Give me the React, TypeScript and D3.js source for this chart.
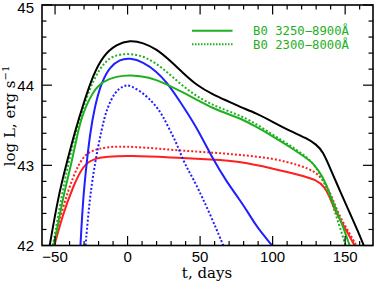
import React from "react";
import * as d3 from "d3";

// ---- data (t in days, log L in erg/s) ----
const blackT = [-53.7, -47.8, -42, -36, -30.6, -23.7, -16.8, -7.6, 1.6, 10.7, 20, 29.1, 38.3, 47.5, 59, 70.5, 77.3, 88.8, 100.3, 111.8, 123.3, 130.2, 134.7, 139.3, 146.2, 153.1, 159, 162.8];
const blackL = [42.0, 42.61, 43.03, 43.44, 43.76, 44.13, 44.37, 44.51, 44.56, 44.53, 44.45, 44.31, 44.15, 44.0, 43.88, 43.79, 43.73, 43.65, 43.54, 43.43, 43.34, 43.26, 43.17, 42.98, 42.69, 42.41, 42.17, 42.0];

const greenSolidT = [-50.8, -44.4, -38.6, -34, -30.6, -23.7, -16.8, -7.6, 1.6, 15.4, 24.5, 36, 47.5, 59, 70.5, 77.3, 88.8, 100.3, 111.8, 123.3, 127.8, 134.7, 139.3, 143.9, 148.5, 153.1];
const greenSolidL = [42.0, 42.61, 43.03, 43.44, 43.66, 43.93, 44.05, 44.11, 44.13, 44.1, 44.03, 43.93, 43.82, 43.71, 43.63, 43.59, 43.48, 43.36, 43.23, 43.09, 43.03, 42.86, 42.65, 42.44, 42.24, 42.0];

const greenDotT = [-51.5, -45.5, -40.9, -35.1, -31, -26, -21, -15.6, -9.9, 1.6, 13.1, 24.5, 36, 47.5, 59, 70.5, 84.2, 100.3, 111.8, 123.3, 130.2, 137.1, 141.6, 146.2, 150.3];
const greenDotL = [42.0, 42.61, 43.03, 43.44, 43.69, 43.96, 44.15, 44.29, 44.37, 44.4, 44.35, 44.21, 44.02, 43.86, 43.75, 43.67, 43.57, 43.38, 43.25, 43.11, 42.98, 42.73, 42.49, 42.24, 42.0];

const redSolidT = [-50.5, -44.4, -37.5, -30.6, -23.7, -14.5, 1.6, 29.1, 59, 77.3, 100.3, 118.7, 130.2, 135.9, 139.3, 143.9, 150.8, 156.5];
const redSolidL = [42.0, 42.4, 42.74, 43.0, 43.08, 43.11, 43.12, 43.1, 43.07, 43.05, 42.96, 42.88, 42.82, 42.73, 42.61, 42.4, 42.19, 42.0];

const redDotT = [-51.5, -44.4, -37.5, -30.6, -23.7, -14.5, 1.6, 38.3, 59, 77.3, 100.3, 118.7, 130.2, 137.1, 141.6, 146.2, 153.1, 157.7];
const redDotL = [42.0, 42.49, 42.87, 43.12, 43.19, 43.23, 43.24, 43.18, 43.16, 43.13, 43.09, 43.0, 42.92, 42.76, 42.57, 42.36, 42.15, 42.0];

const blueSolidT = [-32.5, -30.6, -28.2, -26, -22.6, -17.9, -12.2, -5.3, 1.6, 10.7, 20, 26.9, 36, 47.5, 59, 68.2, 77.3, 84.2, 88.8, 99.6];
const blueSolidL = [42.0, 42.61, 43.03, 43.38, 43.74, 44.04, 44.23, 44.32, 44.34, 44.29, 44.17, 44.04, 43.8, 43.48, 43.07, 42.8, 42.57, 42.38, 42.24, 42.0];

const blueDotT = [-29, -26, -22.5, -17.9, -14.5, -8.7, -3, 1.6, 13.1, 20, 24.5, 29.1, 33.7, 37.2, 41.7, 46.3, 56.7, 66];
const blueDotL = [42.0, 42.61, 43.03, 43.45, 43.7, 43.92, 43.99, 44.01, 43.87, 43.73, 43.61, 43.44, 43.28, 43.11, 42.94, 42.8, 42.4, 42.0];

const xTickLabels = [-50, 0, 50, 100, 150];
const yTickLabels = [42, 43, 44, 45];
const legendLabels = ["B0 3250\u22128900\u00c5", "B0 2300\u22128000\u00c5"];

const GREEN = "#1fb01f";
const BLUE = "#1f1fff";
const RED = "#ff1f1f";

export default function App() {
  const W = 374, H = 283;
  const left = 42, right = 373, top = 5, bottom = 245.5;
  const x = d3.scaleLinear().domain([-59, 169.2]).range([left, right]);
  const y = d3.scaleLinear().domain([42, 45]).range([bottom, top]);

  const line = d3
    .line<[number, number]>()
    .x((d) => x(d[0]))
    .y((d) => y(d[1]))
    .curve(d3.curveBasis);

  const mk = (t: number[], l: number[]) => line(t.map((v, i) => [v, l[i]] as [number, number])) || "";

  const series = [
    { t: redDotT, l: redDotL, c: RED, dash: "2,2" },
    { t: redSolidT, l: redSolidL, c: RED, dash: "" },
    { t: blueDotT, l: blueDotL, c: BLUE, dash: "2,2" },
    { t: blueSolidT, l: blueSolidL, c: BLUE, dash: "" },
    { t: greenDotT, l: greenDotL, c: GREEN, dash: "2,2" },
    { t: greenSolidT, l: greenSolidL, c: GREEN, dash: "" },
    { t: blackT, l: blackL, c: "#000", dash: "" },
  ];

  const xMinor = d3.range(-50, 170, 10);
  const yMinor = d3.range(42, 45.001, 0.2);

  return (
    <div style={{ position: "fixed", left: 0, top: 0 }}>
      <svg width={W} height={H} style={{ display: "block", background: "#fff" }}>
        <defs>
          <clipPath id="plot">
            <rect x={left} y={top} width={right - left} height={bottom - top} />
          </clipPath>
        </defs>
        <g clipPath="url(#plot)">
          {series.map((s, i) => (
            <path key={i} d={mk(s.t, s.l)} fill="none" stroke={s.c} strokeWidth={2} strokeDasharray={s.dash || undefined} />
          ))}
        </g>
        {/* ticks */}
        <g stroke="#000" strokeWidth={1.2}>
          {xMinor.map((v) => {
            const major = xTickLabels.includes(v);
            const len = major ? 9.5 : 4.5;
            return (
              <g key={"x" + v}>
                <line x1={x(v)} x2={x(v)} y1={bottom} y2={bottom - len} />
                <line x1={x(v)} x2={x(v)} y1={top} y2={top + len} />
              </g>
            );
          })}
          {yMinor.map((v) => {
            const major = Math.abs(v - Math.round(v)) < 1e-6;
            const len = major ? 10 : 4.5;
            return (
              <g key={"y" + v.toFixed(1)}>
                <line x1={left} x2={left + len} y1={y(v)} y2={y(v)} />
                <line x1={right} x2={right - len} y1={y(v)} y2={y(v)} />
              </g>
            );
          })}
        </g>
        <rect x={left} y={top} width={right - left} height={bottom - top} fill="none" stroke="#000" strokeWidth={1.6} />
        {/* tick labels */}
        <g fontFamily="'Liberation Sans', Arial, sans-serif" fontSize={15} fill="#000">
          {xTickLabels.map((v) => (
            <text key={"xl" + v} x={x(v)} y={262} textAnchor="middle">
              {v < 0 ? "\u2212" + Math.abs(v) : v}
            </text>
          ))}
          {yTickLabels.map((v) => (
            <text key={"yl" + v} x={34} y={Math.max(y(v) + 5.5, 12.5)} textAnchor="end">
              {v}
            </text>
          ))}
        </g>
        {/* axis titles */}
        <text x={207} y={278} textAnchor="middle" fontFamily="'DejaVu Serif', serif" fontSize={15}>
          t, days
        </text>
        <text
          transform={`translate(15,116) rotate(-90)`}
          textAnchor="middle"
          fontFamily="'DejaVu Serif', serif"
          fontSize={15}
        >
          log L, erg s
          <tspan dy={-6} fontSize={10}>{"\u22121"}</tspan>
        </text>
        {/* legend */}
        <line x1={192} x2={232.5} y1={30.7} y2={30.7} stroke={GREEN} strokeWidth={2} />
        <line x1={192} x2={232.5} y1={44.3} y2={44.3} stroke={GREEN} strokeWidth={2} strokeDasharray="1.5,1.5" />
        <g fontFamily="'DejaVu Sans Mono', monospace" fontSize={12} fill={GREEN}>
          <text x={253} y={35} textLength={96} lengthAdjust="spacingAndGlyphs">{legendLabels[0]}</text>
          <text x={253} y={48.5} textLength={96} lengthAdjust="spacingAndGlyphs">{legendLabels[1]}</text>
        </g>
      </svg>
    </div>
  );
}
